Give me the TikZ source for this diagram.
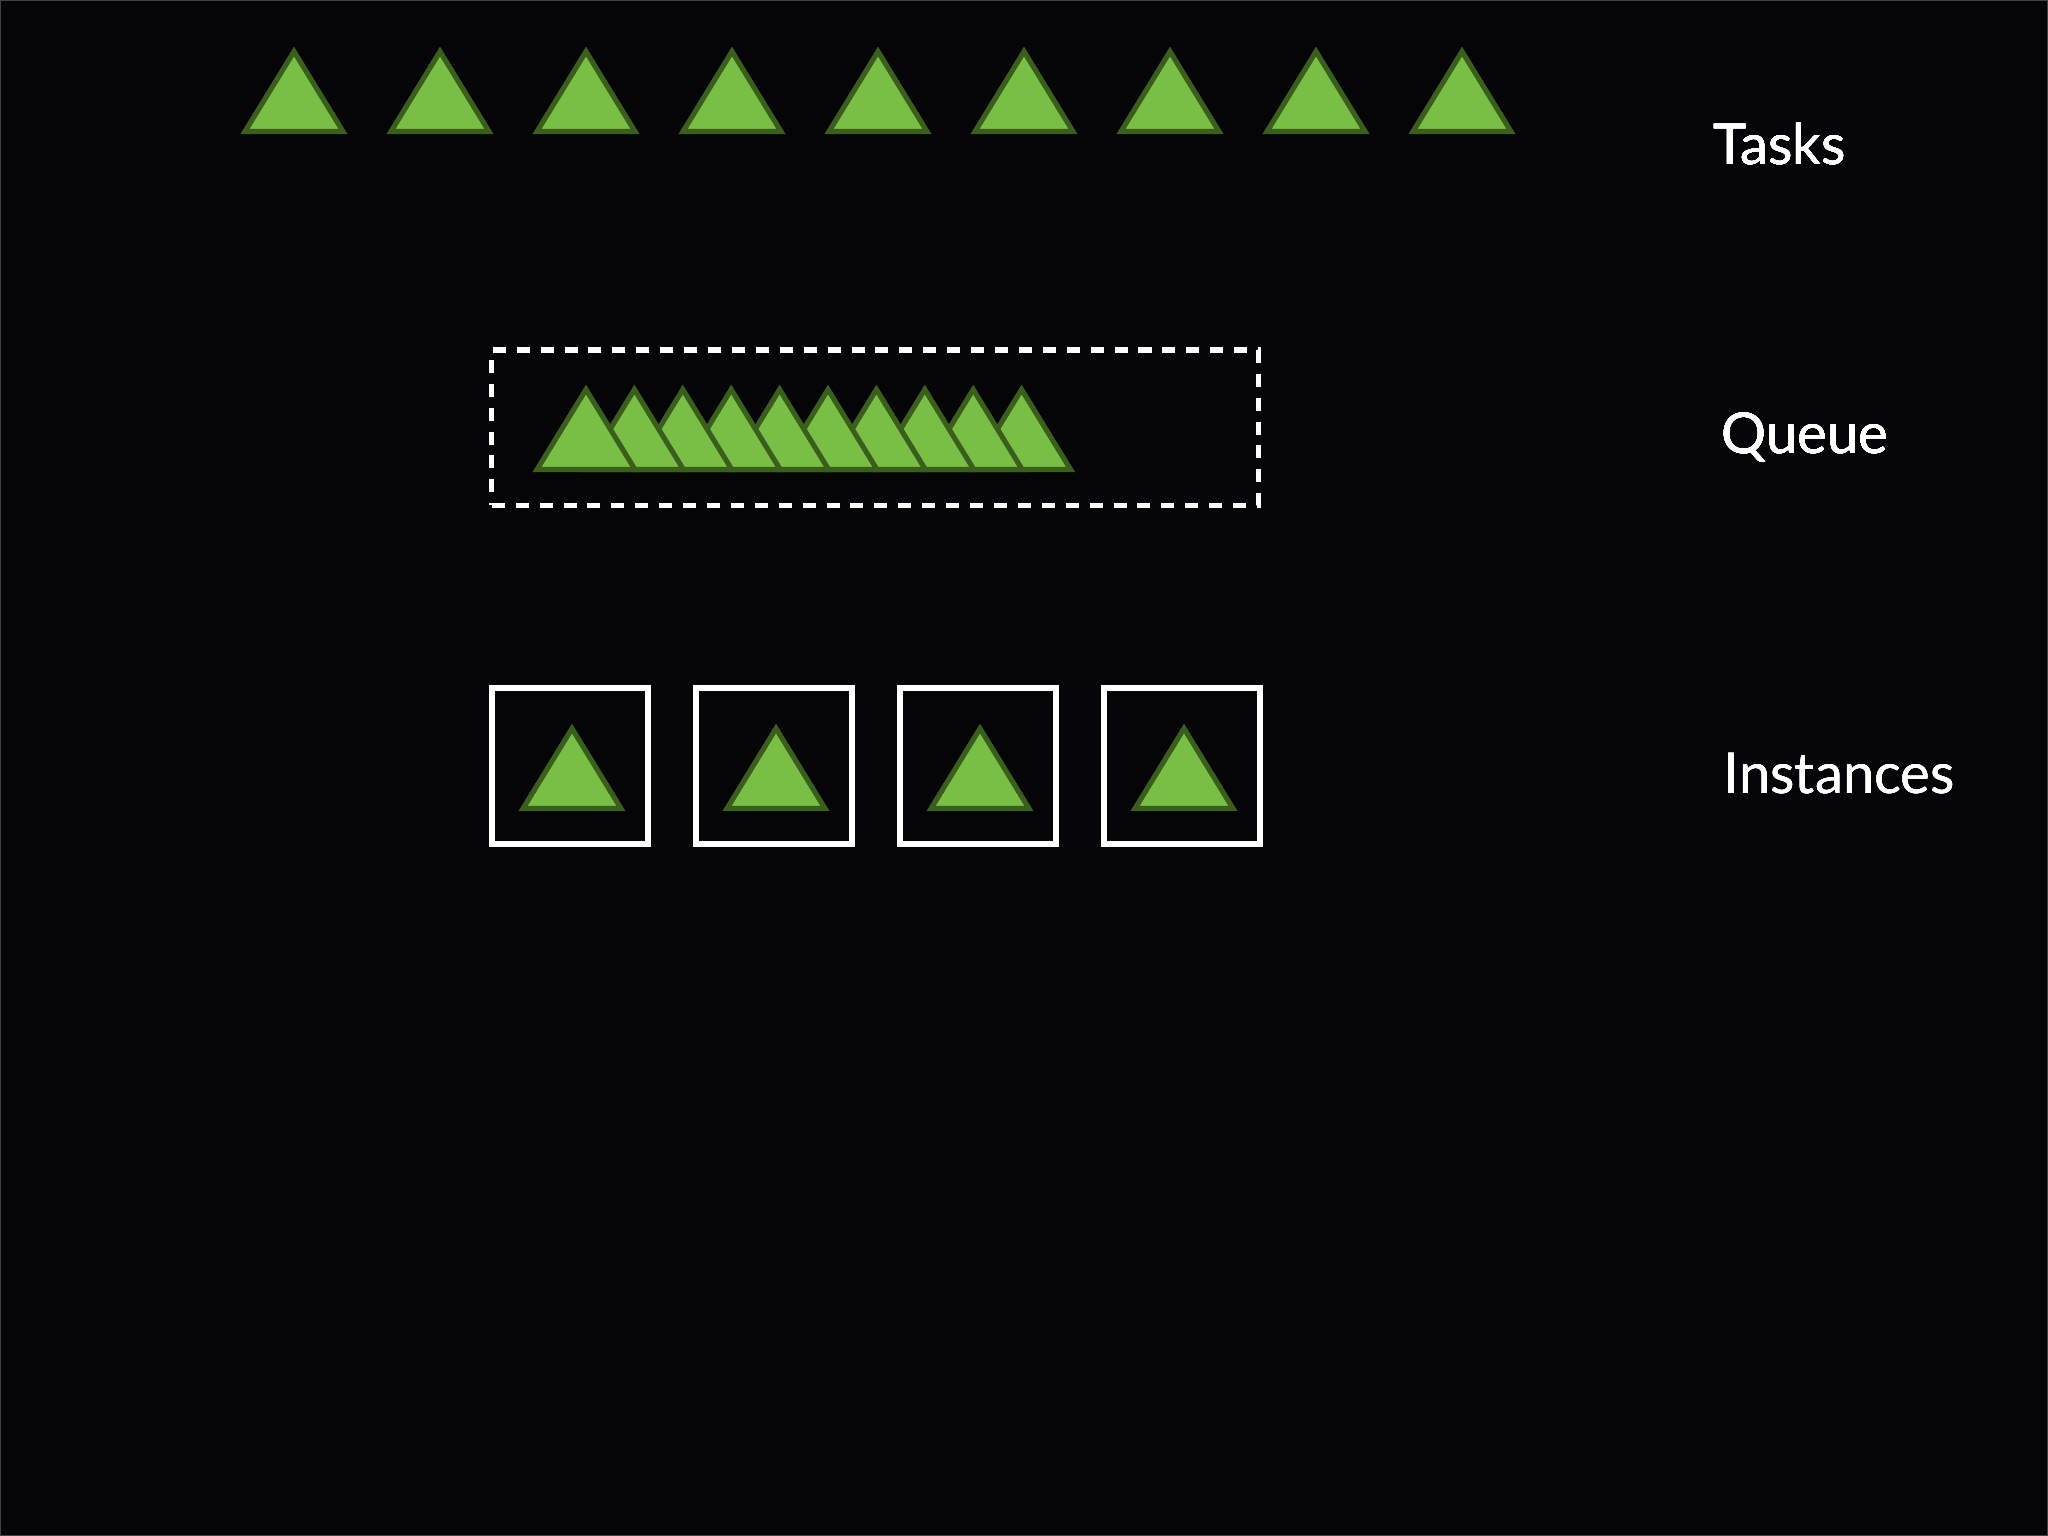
\documentclass[tikz,border=0pt]{standalone}
\usepackage{fontspec}
\setmainfont{Lato}
\usepackage{tikz}
\usetikzlibrary{positioning}

\definecolor{bgblack}{HTML}{050407}
\definecolor{taskfill}{HTML}{7ABF45}
\definecolor{taskline}{HTML}{3A5E1C}

\tikzset{
  task/.style={fill=taskfill, draw=taskline, line width=1.45pt, line join=miter},
  inst/.style={draw=white, line width=1.7pt, minimum size=1.56cm, inner sep=0pt},
  queuebox/.style={draw=white, line width=1.45pt, dash pattern=on 3.7pt off 3.1pt,
    minimum width=7.66cm, minimum height=1.55cm, inner sep=0pt},
  rowname/.style={text=white, anchor=base west, inner sep=0pt,
    font=\fontsize{16}{20}\selectfont}
}

% one triangle: centre x, base y
\newcommand{\tri}[2]{\draw[task] (#1-49,#2) -- (#1+49,#2) -- (#1,#2-80) -- cycle;}

\begin{document}
\begin{tikzpicture}[x=0.01cm, y=-0.01cm]
\useasboundingbox (0,0) rectangle (2048,1536);
\fill[bgblack] (0,0) rectangle (2048,1536);
\draw[black!75!white, line width=0.4pt] (0.7,0.7) rectangle (2047.3,1535.3);

% Tasks
\foreach \i in {0,...,8}
    \tri{294+146*\i}{131.5}
\node[rowname] (tasks) at (1713,164) {Tasks};

% Queue
\node[queuebox] (queue) at (875,427.5) {};
\foreach \i in {9,8,...,0}
    \tri{586+48.4*\i}{469.5}
\node[rowname] (queuename) at (1721,453) {Queue};

% Instances
\foreach \i in {1,...,4}
    \node[inst] (inst\i) at (366+204*\i,766) {};
\foreach \i in {0,...,3}
    \tri{572+204*\i}{808.5}
\node[rowname] (instances) at (1723,793) {Instances};
\end{tikzpicture}
\end{document}
